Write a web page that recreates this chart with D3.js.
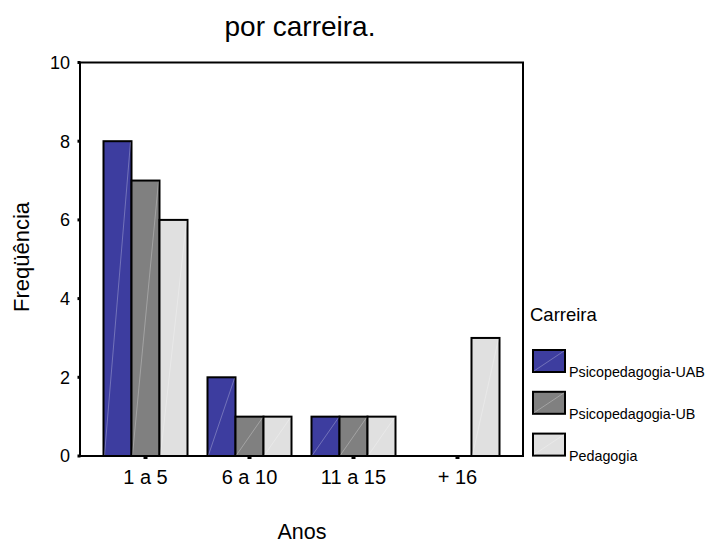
<!DOCTYPE html>
<html>
<head>
<meta charset="utf-8">
<script src="https://cdn.jsdelivr.net/npm/d3@7"></script>
<style>
  html, body { margin: 0; padding: 0; background: #fff; }
  svg { display: block; font-family: "Liberation Sans", Arial, sans-serif; }
</style>
</head>
<body>
<svg id="chart" width="708" height="545"></svg>
<script>
// Tempo de serviço (anos) por carreira
const categories = ["1 a 5", "6 a 10", "11 a 15", "+ 16"];
const seriesNames = ["Psicopedagogia-UAB", "Psicopedagogia-UB", "Pedagogia"];
const psicoUAB = [8, 2, 1, 0];
const psicoUB = [7, 1, 1, 0];
const pedagogia = [6, 1, 1, 3];
const yTicks = [0, 2, 4, 6, 8, 10];
const colors = ["#3d3d9f", "#808080", "#e0e0e0"];

const seriesValues = [psicoUAB, psicoUB, pedagogia];

const svg = d3.select("#chart");
const plot = { left: 80, right: 523, top: 62.5, bottom: 456 };

const x = d3.scaleBand()
  .domain(categories)
  .range([plot.left, plot.right])
  .paddingInner(0.1923)
  .paddingOuter(0.226);

const xSub = d3.scaleBand()
  .domain(seriesNames)
  .range([0, x.bandwidth()]);

const y = d3.scaleLinear()
  .domain([0, 10])
  .range([plot.bottom, plot.top]);

// title
svg.append("text")
  .attr("x", 300).attr("y", 36)
  .attr("text-anchor", "middle")
  .attr("font-size", 28)
  .attr("fill", "#000")
  .text("por carreira.");

// bars
const rows = [];
categories.forEach((c, i) => {
  seriesNames.forEach((s, j) => {
    rows.push({ cat: c, ser: s, value: seriesValues[j][i], color: colors[j] });
  });
});

const bars = svg.append("g");
bars.selectAll("rect")
  .data(rows)
  .join("rect")
  .attr("x", d => x(d.cat) + xSub(d.ser))
  .attr("y", d => y(d.value))
  .attr("width", xSub.bandwidth())
  .attr("height", d => y(0) - y(d.value))
  .attr("fill", d => d.color)
  .attr("stroke", "#000")
  .attr("stroke-width", 2);

// faint diagonal sheen inside each bar
bars.selectAll("line")
  .data(rows.filter(d => d.value > 0))
  .join("line")
  .attr("x1", d => x(d.cat) + xSub(d.ser) + 1)
  .attr("y1", y(0) - 1)
  .attr("x2", d => x(d.cat) + xSub(d.ser) + xSub.bandwidth() - 1)
  .attr("y2", d => y(d.value) + 1)
  .attr("stroke", "#fff")
  .attr("stroke-opacity", 0.35)
  .attr("stroke-width", 0.8);

// frame
svg.append("rect")
  .attr("x", plot.left).attr("y", plot.top)
  .attr("width", plot.right - plot.left)
  .attr("height", plot.bottom - plot.top)
  .attr("fill", "none")
  .attr("stroke", "#000")
  .attr("stroke-width", 2);

// y axis
const yAxis = svg.append("g");
yAxis.selectAll("rect")
  .data(yTicks)
  .join("rect")
  .attr("x", plot.left - 2.5).attr("y", d => y(d) - 1.5)
  .attr("width", 3).attr("height", 3)
  .attr("fill", "#000");
yAxis.selectAll("text")
  .data(yTicks)
  .join("text")
  .attr("x", 70)
  .attr("y", d => y(d))
  .attr("dy", "0.36em")
  .attr("text-anchor", "end")
  .attr("font-size", 18)
  .text(d => d);

// x axis
const xAxis = svg.append("g");
xAxis.selectAll("rect")
  .data(categories)
  .join("rect")
  .attr("x", d => x(d) + x.bandwidth() / 2 - 2).attr("y", plot.bottom)
  .attr("width", 4).attr("height", 3)
  .attr("fill", "#000");
xAxis.selectAll("text")
  .data(categories)
  .join("text")
  .attr("x", d => x(d) + x.bandwidth() / 2)
  .attr("y", 484)
  .attr("text-anchor", "middle")
  .attr("font-size", 20)
  .text(d => d);

// axis titles
svg.append("text")
  .attr("x", 302).attr("y", 539)
  .attr("text-anchor", "middle")
  .attr("font-size", 21.5)
  .text("Anos");

svg.append("text")
  .attr("transform", "translate(29,257) rotate(-90)")
  .attr("text-anchor", "middle")
  .attr("font-size", 22)
  .text("Freqüência");

// legend
const legend = svg.append("g");
legend.append("text")
  .attr("x", 530).attr("y", 321)
  .attr("font-size", 18.5)
  .text("Carreira");

const items = legend.selectAll("g.item")
  .data(seriesNames)
  .join("g")
  .attr("class", "item")
  .attr("transform", (d, i) => `translate(533,${350 + i * 41.8})`);
items.append("rect")
  .attr("width", 32).attr("height", 22)
  .attr("fill", (d, i) => colors[i])
  .attr("stroke", "#000")
  .attr("stroke-width", 2);
items.append("line")
  .attr("x1", 1).attr("y1", 21).attr("x2", 31).attr("y2", 1)
  .attr("stroke", "#fff").attr("stroke-opacity", 0.35).attr("stroke-width", 0.8);
items.append("text")
  .attr("x", 36).attr("y", 27)
  .attr("font-size", 14.3)
  .text(d => d);
</script>
</body>
</html>
